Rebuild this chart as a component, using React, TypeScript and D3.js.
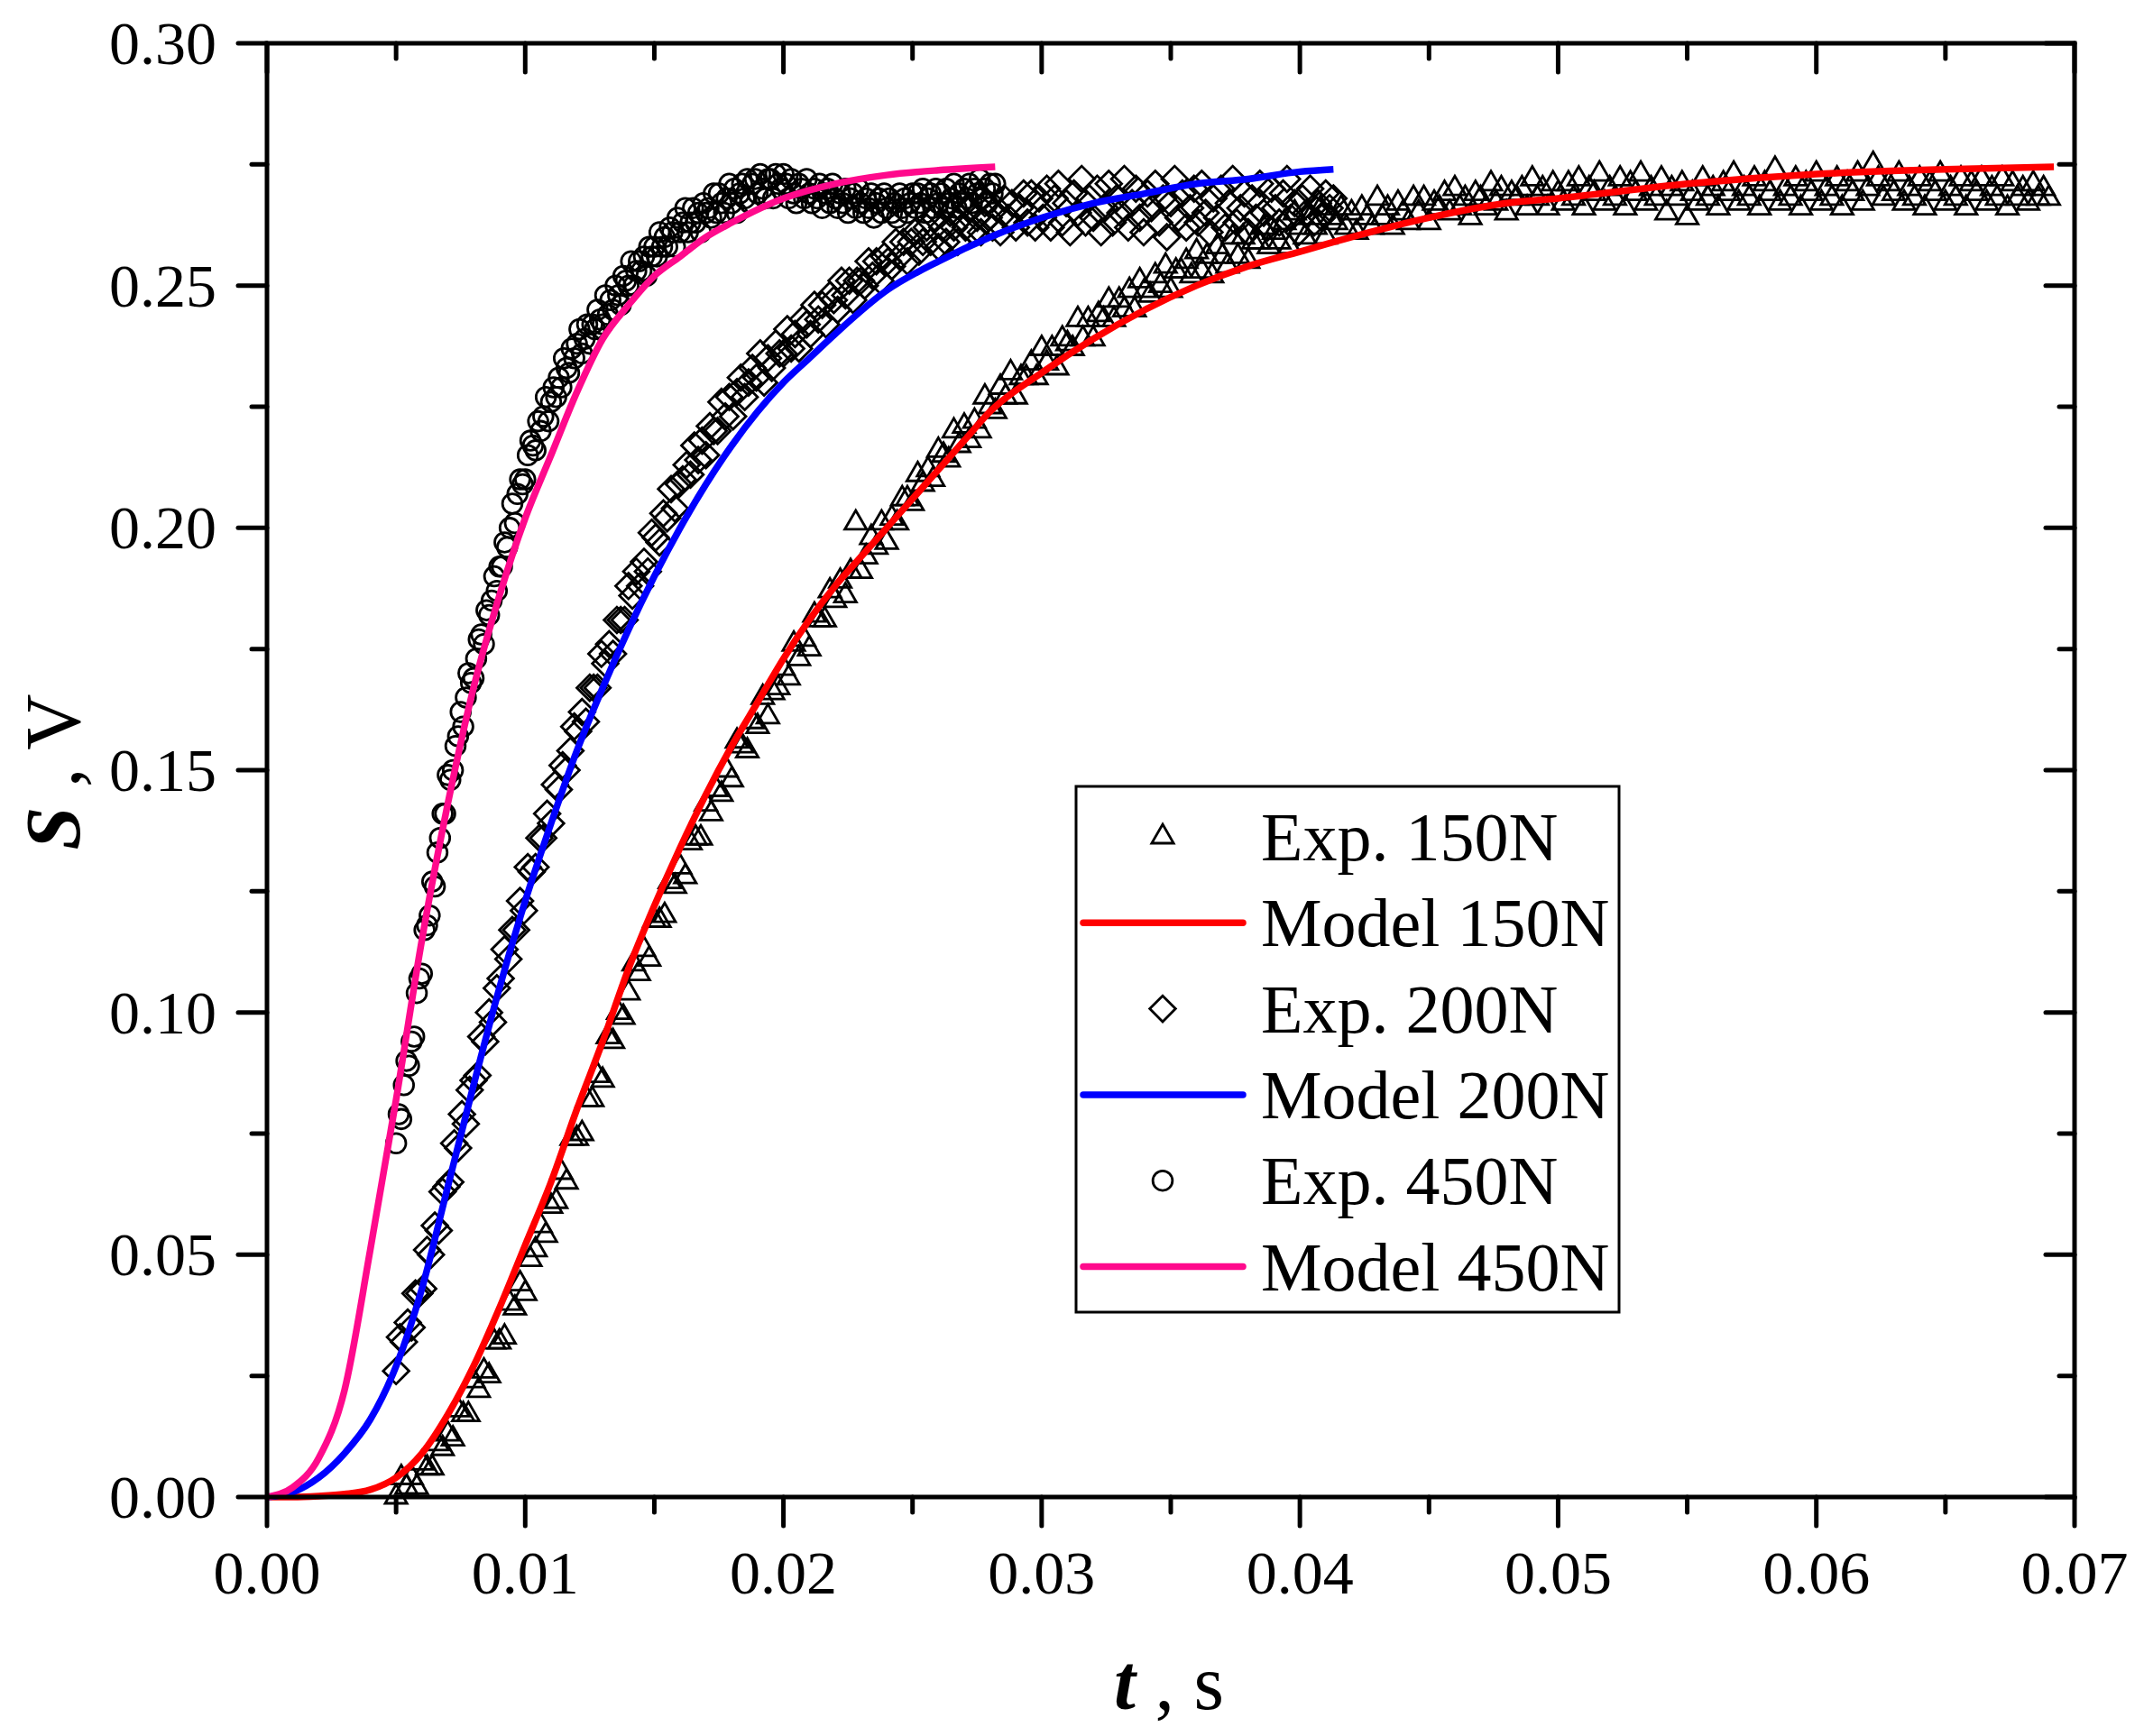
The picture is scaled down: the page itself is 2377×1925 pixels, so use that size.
import { useMemo } from "react";
import * as d3 from "d3";

// ---- data ----
const xTicks = [0, 0.01, 0.02, 0.03, 0.04, 0.05, 0.06, 0.07];
const xTickLabels = ["0.00", "0.01", "0.02", "0.03", "0.04", "0.05", "0.06", "0.07"];
const xMinorTicks = [0.005, 0.015, 0.025, 0.035, 0.045, 0.055, 0.065];
const yTicks = [0, 0.05, 0.1, 0.15, 0.2, 0.25, 0.3];
const yTickLabels = ["0.00", "0.05", "0.10", "0.15", "0.20", "0.25", "0.30"];
const yMinorTicks = [0.025, 0.075, 0.125, 0.175, 0.225, 0.275];

// experimental records: first sample time, sampling step, signal values
const exp150Start = 0.005;
const exp150Step = 0.0002;
const exp150 = [
  0.000, 0.004, 0.002, 0.004, 0.002, 0.007, 0.006, 0.006, 0.011, 0.010,
  0.013, 0.012, 0.018, 0.017, 0.017, 0.024, 0.022, 0.026, 0.025, 0.032,
  0.032, 0.033, 0.040, 0.039, 0.044, 0.042, 0.049, 0.051, 0.056, 0.054,
  0.060, 0.061, 0.067, 0.065, 0.074, 0.074, 0.075, 0.082, 0.082, 0.087,
  0.086, 0.095, 0.094, 0.100, 0.099, 0.104, 0.110, 0.108, 0.113, 0.111,
  0.119, 0.119, 0.120, 0.127, 0.126, 0.130, 0.128, 0.135, 0.136, 0.136,
  0.143, 0.141, 0.146, 0.145, 0.150, 0.148, 0.156, 0.155, 0.154, 0.160,
  0.159, 0.165, 0.161, 0.166, 0.167, 0.171, 0.169, 0.176, 0.173, 0.177,
  0.175, 0.182, 0.181, 0.181, 0.187, 0.185, 0.189, 0.186, 0.191, 0.201,
  0.191, 0.194, 0.198, 0.196, 0.201, 0.197, 0.202, 0.201, 0.206, 0.206,
  0.205, 0.211, 0.209, 0.212, 0.210, 0.216, 0.215, 0.214, 0.220, 0.217,
  0.221, 0.218, 0.222, 0.220, 0.227, 0.225, 0.224, 0.229, 0.227, 0.232,
  0.227, 0.231, 0.231, 0.234, 0.231, 0.237, 0.234, 0.237, 0.233, 0.239,
  0.238, 0.237, 0.243, 0.239, 0.243, 0.239, 0.244, 0.243, 0.247, 0.243,
  0.247, 0.245, 0.249, 0.245, 0.251, 0.249, 0.248, 0.252, 0.250, 0.254,
  0.249, 0.253, 0.253, 0.255, 0.252, 0.257, 0.253, 0.256, 0.252, 0.258,
  0.256, 0.254, 0.260, 0.256, 0.260, 0.255, 0.259, 0.259, 0.262, 0.258,
  0.261, 0.259, 0.263, 0.258, 0.265, 0.262, 0.260, 0.264, 0.262, 0.266,
  0.260, 0.264, 0.263, 0.266, 0.262, 0.265, 0.261, 0.266, 0.264, 0.262,
  0.268, 0.264, 0.266, 0.262, 0.267, 0.265, 0.263, 0.268, 0.265, 0.268,
  0.263, 0.267, 0.266, 0.269, 0.265, 0.270, 0.266, 0.268, 0.264, 0.269,
  0.268, 0.266, 0.271, 0.267, 0.270, 0.265, 0.269, 0.268, 0.270, 0.266,
  0.272, 0.268, 0.270, 0.266, 0.271, 0.269, 0.267, 0.271, 0.268, 0.272,
  0.266, 0.270, 0.269, 0.273, 0.267, 0.270, 0.268, 0.272, 0.266, 0.271,
  0.269, 0.273, 0.267, 0.270, 0.268, 0.272, 0.265, 0.270, 0.268, 0.271,
  0.264, 0.269, 0.267, 0.272, 0.268, 0.270, 0.266, 0.271, 0.269, 0.273,
  0.267, 0.270, 0.268, 0.272, 0.266, 0.271, 0.269, 0.274, 0.267, 0.270,
  0.268, 0.272, 0.266, 0.271, 0.269, 0.273, 0.267, 0.270, 0.268, 0.272,
  0.266, 0.271, 0.269, 0.273, 0.267, 0.270, 0.275, 0.272, 0.268, 0.271,
  0.269, 0.273, 0.267, 0.270, 0.268, 0.272, 0.266, 0.271, 0.269, 0.273,
  0.267, 0.270, 0.268, 0.272, 0.266, 0.271, 0.269, 0.272, 0.267, 0.270,
  0.268, 0.272, 0.266, 0.271, 0.268, 0.270, 0.267, 0.271, 0.268, 0.270,
  0.268,
];

const exp200Start = 0.005;
const exp200Step = 0.00015;
const exp200 = [
  0.026, 0.033, 0.032, 0.036, 0.035, 0.042, 0.042, 0.043, 0.051, 0.050,
  0.056, 0.055, 0.063, 0.064, 0.065, 0.073, 0.072, 0.079, 0.077, 0.084,
  0.086, 0.087, 0.095, 0.094, 0.100, 0.098, 0.105, 0.107, 0.113, 0.111,
  0.117, 0.117, 0.123, 0.121, 0.130, 0.129, 0.130, 0.136, 0.136, 0.141,
  0.139, 0.147, 0.146, 0.151, 0.150, 0.154, 0.159, 0.158, 0.162, 0.160,
  0.167, 0.167, 0.167, 0.174, 0.172, 0.176, 0.174, 0.181, 0.181, 0.181,
  0.188, 0.186, 0.191, 0.188, 0.193, 0.191, 0.199, 0.198, 0.197, 0.203,
  0.202, 0.208, 0.204, 0.209, 0.210, 0.213, 0.211, 0.217, 0.214, 0.218,
  0.215, 0.221, 0.220, 0.220, 0.226, 0.223, 0.227, 0.223, 0.228, 0.231,
  0.227, 0.230, 0.233, 0.231, 0.236, 0.230, 0.235, 0.233, 0.238, 0.236,
  0.236, 0.241, 0.237, 0.240, 0.237, 0.243, 0.242, 0.240, 0.246, 0.243,
  0.246, 0.242, 0.248, 0.247, 0.245, 0.251, 0.248, 0.251, 0.247, 0.251,
  0.251, 0.250, 0.255, 0.252, 0.255, 0.251, 0.256, 0.255, 0.254, 0.259,
  0.256, 0.259, 0.255, 0.259, 0.261, 0.257, 0.259, 0.262, 0.259, 0.264,
  0.258, 0.262, 0.259, 0.265, 0.262, 0.259, 0.264, 0.262, 0.266, 0.261,
  0.264, 0.261, 0.267, 0.264, 0.262, 0.266, 0.261, 0.268, 0.264, 0.267,
  0.262, 0.266, 0.269, 0.263, 0.269, 0.262, 0.268, 0.264, 0.270, 0.262,
  0.268, 0.271, 0.263, 0.267, 0.261, 0.269, 0.265, 0.272, 0.263, 0.268,
  0.264, 0.270, 0.261, 0.266, 0.271, 0.263, 0.268, 0.265, 0.272, 0.262,
  0.267, 0.270, 0.264, 0.261, 0.269, 0.266, 0.271, 0.263, 0.268, 0.260,
  0.267, 0.272, 0.264, 0.269, 0.262, 0.266, 0.270, 0.263, 0.271, 0.265,
  0.261, 0.268, 0.264, 0.270, 0.262, 0.267, 0.272, 0.263, 0.266, 0.269,
  0.261, 0.268, 0.264, 0.271, 0.265, 0.262, 0.270, 0.266, 0.263, 0.269,
  0.272, 0.264, 0.267, 0.261, 0.268, 0.265, 0.270, 0.263, 0.267, 0.264,
  0.269, 0.266, 0.268,
];

const exp450Start = 0.005;
const exp450Step = 0.0001;
const exp450 = [
  0.073, 0.079, 0.078, 0.085, 0.090, 0.089, 0.094, 0.095, 0.104, 0.107,
  0.108, 0.117, 0.118, 0.120, 0.127, 0.126, 0.133, 0.136, 0.141, 0.141,
  0.149, 0.148, 0.150, 0.155, 0.157, 0.162, 0.159, 0.165, 0.170, 0.168,
  0.169, 0.173, 0.177, 0.178, 0.176, 0.183, 0.182, 0.185, 0.190, 0.187,
  0.192, 0.192, 0.197, 0.196, 0.200, 0.205, 0.201, 0.207, 0.210, 0.209,
  0.210, 0.215, 0.218, 0.217, 0.216, 0.222, 0.220, 0.223, 0.227, 0.222,
  0.226, 0.229, 0.227, 0.231, 0.229, 0.235, 0.233, 0.232, 0.237, 0.235,
  0.238, 0.241, 0.236, 0.239, 0.242, 0.238, 0.242, 0.241, 0.245, 0.243,
  0.242, 0.248, 0.244, 0.247, 0.245, 0.250, 0.248, 0.246, 0.252, 0.251,
  0.250, 0.255, 0.250, 0.253, 0.255, 0.253, 0.256, 0.252, 0.258, 0.256,
  0.258, 0.256, 0.261, 0.258, 0.260, 0.258, 0.262, 0.261, 0.258, 0.264,
  0.261, 0.263, 0.266, 0.261, 0.263, 0.266, 0.263, 0.265, 0.261, 0.267,
  0.265, 0.266, 0.264, 0.269, 0.265, 0.269, 0.267, 0.265, 0.268, 0.271,
  0.267, 0.270, 0.265, 0.269, 0.271, 0.268, 0.272, 0.267, 0.271, 0.272,
  0.269, 0.273, 0.270, 0.268, 0.272, 0.272, 0.268, 0.273, 0.271, 0.270,
  0.273, 0.271, 0.268, 0.272, 0.269, 0.267, 0.271, 0.270, 0.268, 0.272,
  0.269, 0.267, 0.270, 0.268, 0.271, 0.266, 0.269, 0.270, 0.267, 0.271,
  0.268, 0.266, 0.269, 0.267, 0.270, 0.265, 0.268, 0.269, 0.266, 0.270,
  0.267, 0.265, 0.268, 0.266, 0.269, 0.264, 0.267, 0.268, 0.265, 0.269,
  0.266, 0.268, 0.265, 0.267, 0.264, 0.269, 0.266, 0.268, 0.265, 0.267,
  0.269, 0.266, 0.269, 0.267, 0.270, 0.265, 0.268, 0.269, 0.266, 0.270,
  0.267, 0.269, 0.266, 0.270, 0.267, 0.268, 0.271, 0.266, 0.269, 0.267,
  0.270, 0.268, 0.271, 0.267, 0.270, 0.269, 0.272, 0.268, 0.270, 0.267,
  0.271, 0.269, 0.271,
];

// model curves
const model150T = [
  0, 0.001, 0.002, 0.003, 0.004, 0.005, 0.006, 0.007, 0.008, 0.009, 0.01,
  0.011, 0.012, 0.013, 0.014, 0.015, 0.016, 0.017, 0.018, 0.019, 0.02, 0.021,
  0.022, 0.023, 0.024, 0.025, 0.026, 0.027, 0.028, 0.03, 0.032, 0.034, 0.036,
  0.038, 0.04, 0.042, 0.045, 0.048, 0.05, 0.055, 0.06, 0.065, 0.0692,
];
const model150S = [
  0, 0, 0.0002, 0.0006, 0.0015, 0.004, 0.009, 0.017, 0.027, 0.039, 0.052,
  0.065, 0.08, 0.094, 0.109, 0.122, 0.134, 0.145, 0.155, 0.164, 0.173, 0.181,
  0.188, 0.194, 0.2, 0.206, 0.212, 0.218, 0.224, 0.232, 0.239, 0.245, 0.25,
  0.254, 0.257, 0.26, 0.264, 0.267, 0.268, 0.271, 0.273, 0.274, 0.2745,
];

const model200T = [
  0, 0.001, 0.002, 0.003, 0.004, 0.005, 0.006, 0.007, 0.008, 0.009, 0.01,
  0.011, 0.012, 0.013, 0.014, 0.015, 0.016, 0.017, 0.018, 0.019, 0.02, 0.021,
  0.022, 0.024, 0.026, 0.028, 0.03, 0.032, 0.034, 0.036, 0.038, 0.04, 0.0413,
];
const model200S = [
  0, 0.001, 0.004, 0.009, 0.016, 0.027, 0.043, 0.064, 0.085, 0.105, 0.123,
  0.139, 0.154, 0.167, 0.179, 0.19, 0.2, 0.209, 0.217, 0.224, 0.23, 0.235,
  0.24, 0.249, 0.255, 0.26, 0.264, 0.267, 0.269, 0.271, 0.272, 0.2735, 0.274,
];

const model450T = [
  0, 0.001, 0.002, 0.003, 0.004, 0.005, 0.006, 0.007, 0.008, 0.009, 0.01,
  0.011, 0.012, 0.013, 0.014, 0.015, 0.016, 0.017, 0.018, 0.02, 0.022, 0.024,
  0.026, 0.0282,
];
const model450S = [
  0, 0.002, 0.008, 0.022, 0.051, 0.082, 0.115, 0.143, 0.167, 0.186, 0.202,
  0.215, 0.228, 0.239, 0.246, 0.252, 0.256, 0.26, 0.263, 0.268, 0.271, 0.2728,
  0.2738, 0.2745,
];

const legendLabels = ["Exp. 150N", "Model 150N", "Exp. 200N", "Model 200N", "Exp. 450N", "Model 450N"];

// ---- layout ----
const W = 2377;
const H = 1925;
const plot = { left: 296, right: 2300, top: 48, bottom: 1660 };
const FONT = "'Liberation Serif', 'Times New Roman', serif";
const red = "#ff0000";
const blue = "#0000ff";
const pink = "#ff0a8c";

type Pt = [number, number];

const sampled = (start: number, step: number, vals: number[]): Pt[] =>
  vals.map((v, i) => [start + i * step, v]);
const zipped = (ts: number[], vs: number[]): Pt[] => ts.map((t, i) => [t, vs[i]]);

export default function App() {
  const x = d3.scaleLinear().domain([0, 0.07]).range([plot.left, plot.right]);
  const y = d3.scaleLinear().domain([0, 0.3]).range([plot.bottom, plot.top]);

  const line = d3
    .line<Pt>()
    .x((d) => x(d[0]))
    .y((d) => y(d[1]))
    .curve(d3.curveMonotoneX);

  const tri = d3.symbol().type(d3.symbolTriangle).size(255)() || "";
  const dia = d3.symbol().type(d3.symbolSquare).size(410)() || "";
  const circ = d3.symbol().type(d3.symbolCircle).size(370)() || "";

  const series = useMemo(
    () => ({
      e150: sampled(exp150Start, exp150Step, exp150),
      e200: sampled(exp200Start, exp200Step, exp200),
      e450: sampled(exp450Start, exp450Step, exp450),
      m150: zipped(model150T, model150S),
      m200: zipped(model200T, model200S),
      m450: zipped(model450T, model450S),
    }),
    []
  );

  const markerStyle = { fill: "none", stroke: "#000", strokeWidth: 2.8 };
  const lineStyle = (c: string) => ({ fill: "none", stroke: c, strokeWidth: 7.5, strokeLinejoin: "round" as const });

  const major = 32;
  const minor = 17;
  const axisW = 5;

  // legend geometry
  const lg = { x0: 1193, x1: 1795, y0: 872, y1: 1455, first: 928, gap: 95.3 };
  const legendItems = [
    { kind: "tri" },
    { kind: "line", color: red },
    { kind: "dia" },
    { kind: "line", color: blue },
    { kind: "circ" },
    { kind: "line", color: pink },
  ];

  const marker = (kind: string, cx: number, cy: number, key?: string | number) => {
    if (kind === "tri") return <path key={key} d={tri} transform={`translate(${cx},${cy})`} {...markerStyle} />;
    if (kind === "dia") return <path key={key} d={dia} transform={`translate(${cx},${cy}) rotate(45)`} {...markerStyle} />;
    return <path key={key} d={circ} transform={`translate(${cx},${cy})`} {...markerStyle} />;
  };

  return (
    <div style={{ position: "absolute", left: 0, top: 0, width: W, height: H, background: "#fff" }}>
      <svg width={W} height={H} viewBox={`0 0 ${W} ${H}`} style={{ display: "block" }}>
        <rect width={W} height={H} fill="#fff" />

        {/* data */}
        <g>{series.e150.map((d, i) => marker("tri", x(d[0]), y(d[1]), i))}</g>
        <path d={line(series.m150) || ""} {...lineStyle(red)} />
        <g>{series.e200.map((d, i) => marker("dia", x(d[0]), y(d[1]), i))}</g>
        <path d={line(series.m200) || ""} {...lineStyle(blue)} />
        <g>{series.e450.map((d, i) => marker("circ", x(d[0]), y(d[1]), i))}</g>
        <path d={line(series.m450) || ""} {...lineStyle(pink)} />

        {/* frame */}
        <rect
          x={plot.left}
          y={plot.top}
          width={plot.right - plot.left}
          height={plot.bottom - plot.top}
          fill="none"
          stroke="#000"
          strokeWidth={axisW}
        />

        {/* ticks */}
        <g stroke="#000" strokeWidth={axisW} strokeLinecap="round">
          {xTicks.map((t) => (
            <g key={`xt${t}`}>
              <line x1={x(t)} x2={x(t)} y1={plot.bottom} y2={plot.bottom + major} />
              <line x1={x(t)} x2={x(t)} y1={plot.top} y2={plot.top + major} />
            </g>
          ))}
          {xMinorTicks.map((t) => (
            <g key={`xm${t}`}>
              <line x1={x(t)} x2={x(t)} y1={plot.bottom} y2={plot.bottom + minor} />
              <line x1={x(t)} x2={x(t)} y1={plot.top} y2={plot.top + minor} />
            </g>
          ))}
          {yTicks.map((v) => (
            <g key={`yt${v}`}>
              <line x1={plot.left - major} x2={plot.left} y1={y(v)} y2={y(v)} />
              <line x1={plot.right - major} x2={plot.right} y1={y(v)} y2={y(v)} />
            </g>
          ))}
          {yMinorTicks.map((v) => (
            <g key={`ym${v}`}>
              <line x1={plot.left - minor} x2={plot.left} y1={y(v)} y2={y(v)} />
              <line x1={plot.right - minor} x2={plot.right} y1={y(v)} y2={y(v)} />
            </g>
          ))}
        </g>

        {/* tick labels */}
        <g fontFamily={FONT} fontSize={68} fill="#000">
          {xTicks.map((t, i) => (
            <text key={`xl${t}`} x={x(t)} y={1767} textAnchor="middle">
              {xTickLabels[i]}
            </text>
          ))}
          {yTicks.map((v, i) => (
            <text key={`yl${v}`} x={240} y={y(v) + 23} textAnchor="end">
              {yTickLabels[i]}
            </text>
          ))}
        </g>

        {/* axis titles */}
        <text x={1296} y={1895} textAnchor="middle" fontFamily={FONT} fontSize={86}>
          <tspan fontWeight="bold" fontStyle="italic">t</tspan>
          <tspan> , s</tspan>
        </text>
        <text
          transform="translate(88,856) rotate(-90)"
          textAnchor="middle"
          fontFamily={FONT}
          fontSize={86}
        >
          <tspan fontWeight="bold" fontStyle="italic">S</tspan>
          <tspan> , V</tspan>
        </text>

        {/* legend */}
        <rect x={lg.x0} y={lg.y0} width={lg.x1 - lg.x0} height={lg.y1 - lg.y0} fill="#fff" stroke="#000" strokeWidth={3} />
        {legendItems.map((it, i) => {
          const cy = lg.first + i * lg.gap;
          return (
            <g key={`lg${i}`}>
              {it.kind === "line" ? (
                <line x1={1201} x2={1378} y1={cy} y2={cy} stroke={it.color} strokeWidth={7.5} strokeLinecap="round" />
              ) : (
                marker(it.kind, 1289, cy)
              )}
              <text x={1398} y={cy + 26} fontFamily={FONT} fontSize={76}>
                {legendLabels[i]}
              </text>
            </g>
          );
        })}
      </svg>
    </div>
  );
}
